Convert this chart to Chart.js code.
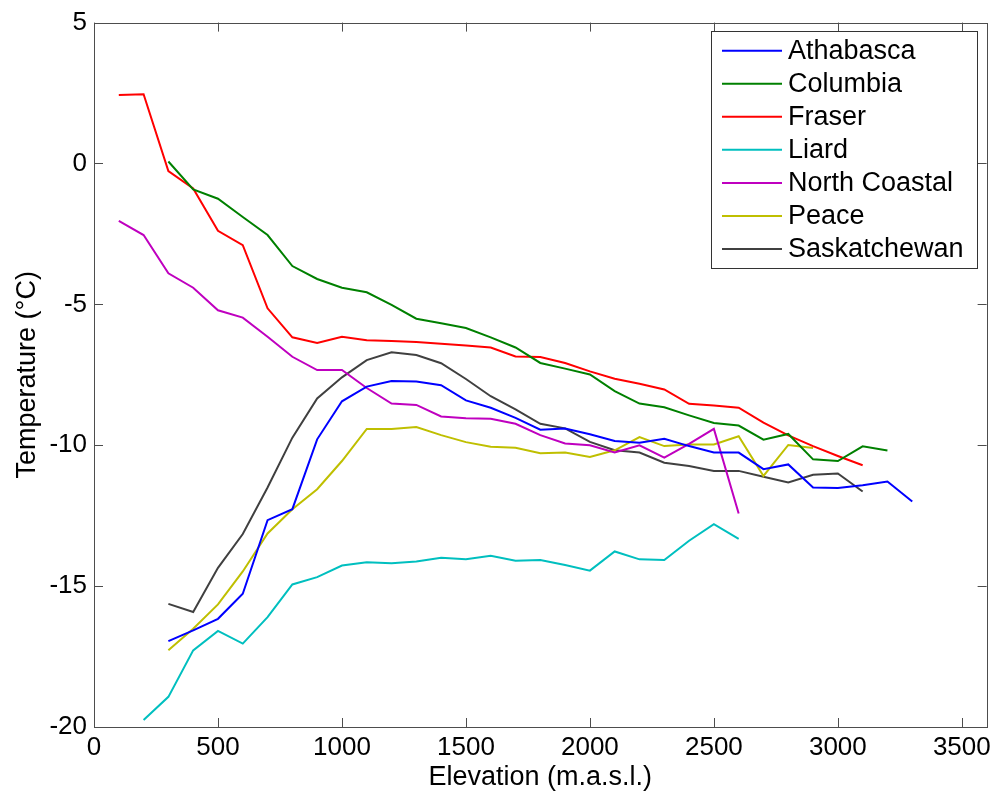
<!DOCTYPE html>
<html>
<head>
<meta charset="utf-8">
<script src="https://cdn.jsdelivr.net/npm/chart.js@4/dist/chart.umd.min.js"></script>
<style>
  html, body { margin: 0; padding: 0; background: #ffffff; }
  #wrap { width: 996px; height: 792px; position: relative; }
</style>
</head>
<body>
<div id="wrap"><canvas id="c" width="996" height="792"></canvas></div>
<script>
// ---- Data (elevation in m.a.s.l., temperature in °C) ----
const elevations = [100,200,300,400,500,600,700,800,900,1000,1100,1200,1300,1400,1500,1600,1700,1800,1900,2000,2100,2200,2300,2400,2500,2600,2700,2800,2900,3000,3100,3200,3300];

const athabasca = [null,null,-16.95,-16.57,-16.16,-15.27,-12.66,-12.27,-9.79,-8.44,-7.92,-7.72,-7.74,-7.87,-8.41,-8.67,-9.03,-9.45,-9.41,-9.61,-9.85,-9.91,-9.77,-10.03,-10.26,-10.26,-10.85,-10.68,-11.50,-11.52,-11.42,-11.29,-12.00];
const columbia = [null,null,0.07,-0.92,-1.25,-1.90,-2.54,-3.64,-4.10,-4.41,-4.57,-5.02,-5.51,-5.67,-5.84,-6.17,-6.53,-7.08,-7.28,-7.49,-8.08,-8.52,-8.65,-8.94,-9.21,-9.30,-9.80,-9.60,-10.50,-10.56,-10.04,-10.19,null];
const fraser = [2.43,2.46,-0.27,-0.89,-2.39,-2.90,-5.14,-6.17,-6.37,-6.15,-6.27,-6.30,-6.34,-6.40,-6.46,-6.53,-6.85,-6.87,-7.08,-7.38,-7.64,-7.82,-8.02,-8.53,-8.59,-8.67,-9.20,-9.65,-10.03,-10.38,-10.71,null,null];
const liard = [null,-19.75,-18.93,-17.28,-16.59,-17.04,-16.10,-14.94,-14.68,-14.27,-14.15,-14.19,-14.13,-13.99,-14.05,-13.92,-14.10,-14.07,-14.25,-14.45,-13.77,-14.05,-14.07,-13.39,-12.80,-13.32,null,null,null,null,null,null,null];
const northCoastal = [-2.04,-2.54,-3.90,-4.41,-5.21,-5.47,-6.15,-6.86,-7.33,-7.33,-7.97,-8.52,-8.57,-8.98,-9.04,-9.06,-9.24,-9.64,-9.94,-10.00,-10.26,-10.00,-10.44,-9.95,-9.42,-12.42,null,null,null,null,null,null,null];
const peace = [null,null,-17.28,-16.51,-15.65,-14.48,-13.13,-12.27,-11.56,-10.56,-9.42,-9.42,-9.35,-9.64,-9.89,-10.05,-10.09,-10.28,-10.26,-10.42,-10.18,-9.71,-10.03,-9.97,-9.97,-9.68,-11.09,-9.99,-10.10,null,null,null,null];
const saskatchewan = [null,null,-15.63,-15.92,-14.35,-13.15,-11.50,-9.73,-8.34,-7.59,-6.98,-6.70,-6.80,-7.09,-7.65,-8.26,-8.73,-9.24,-9.40,-9.88,-10.18,-10.26,-10.62,-10.74,-10.91,-10.91,-11.12,-11.32,-11.05,-11.00,-11.64,null,null];

const seriesNames = ["Athabasca","Columbia","Fraser","Liard","North Coastal","Peace","Saskatchewan"];
const seriesValues = [athabasca, columbia, fraser, liard, northCoastal, peace, saskatchewan];
const seriesColors = ["#0000ff","#008000","#ff0000","#00bfbf","#bf00bf","#bfbf00","#404040"];

const xTicks = [0,500,1000,1500,2000,2500,3000,3500];
const yTicks = [-20,-15,-10,-5,0,5];

// ---- Build datasets ----
const datasets = seriesNames.map((name, i) => ({
  label: name,
  data: elevations.map((e, k) => ({ x: e, y: seriesValues[i][k] })).filter(p => p.y !== null),
  borderColor: seriesColors[i],
  backgroundColor: seriesColors[i],
  borderWidth: 2,
  pointRadius: 0,
  tension: 0,
  fill: false
}));

const FONT = "'Liberation Sans', Arial, Helvetica, sans-serif";
const AXIS_COLOR = "#4d4d4d";

// Box with inward ticks on all four sides (MATLAB style)
const boxPlugin = {
  id: 'boxTicks',
  afterDatasetsDraw(chart) {
    const { ctx, chartArea: a, scales } = chart;
    const tl = 9;
    ctx.save();
    ctx.strokeStyle = AXIS_COLOR;
    ctx.lineWidth = 1;
    ctx.beginPath();
    xTicks.forEach(v => {
      const px = Math.round(scales.x.getPixelForValue(v)) + 0.5;
      ctx.moveTo(px, a.bottom); ctx.lineTo(px, a.bottom - tl);
      ctx.moveTo(px, a.top); ctx.lineTo(px, a.top + tl);
    });
    yTicks.forEach(v => {
      const py = Math.round(scales.y.getPixelForValue(v)) + 0.5;
      ctx.moveTo(a.left, py); ctx.lineTo(a.left + tl, py);
      ctx.moveTo(a.right, py); ctx.lineTo(a.right - tl, py);
    });
    ctx.stroke();
    ctx.strokeRect(Math.round(a.left) + 0.5, Math.round(a.top) + 0.5,
                   Math.round(a.right - a.left), Math.round(a.bottom - a.top));
    ctx.restore();
  }
};

// Legend box in the upper right (MATLAB style)
const legendPlugin = {
  id: 'matlabLegend',
  afterDraw(chart) {
    const { ctx } = chart;
    const bx = 711, by = 31, bw = 266, bh = 237;
    const rowH = 33.05, firstY = 50.7;
    ctx.save();
    ctx.fillStyle = '#ffffff';
    ctx.fillRect(bx, by, bw, bh);
    ctx.strokeStyle = '#333333';
    ctx.lineWidth = 1;
    ctx.strokeRect(bx + 0.5, by + 0.5, bw, bh);
    ctx.font = "27px " + FONT;
    ctx.textBaseline = 'middle';
    ctx.textAlign = 'left';
    chart.data.datasets.forEach((ds, i) => {
      const y = firstY + i * rowH;
      ctx.strokeStyle = ds.borderColor;
      ctx.lineWidth = 2;
      ctx.beginPath();
      ctx.moveTo(722, y); ctx.lineTo(782, y);
      ctx.stroke();
      ctx.fillStyle = '#000000';
      ctx.fillText(ds.label, 788, y + 1);
    });
    ctx.restore();
  }
};

new Chart(document.getElementById('c'), {
  type: 'line',
  data: { datasets },
  plugins: [boxPlugin, legendPlugin],
  options: {
    responsive: false,
    animation: false,
    devicePixelRatio: 1,
    layout: { padding: { left: 0, right: 9, top: 20, bottom: 0 } },
    plugins: { legend: { display: false }, tooltip: { enabled: false } },
    scales: {
      x: {
        type: 'linear',
        min: 0, max: 3600,
        afterBuildTicks: s => { s.ticks = xTicks.map(v => ({ value: v })); },
        afterFit: s => { s.height = 65; },
        grid: { display: false, drawTicks: false },
        border: { display: false },
        ticks: { color: '#000', padding: 5, font: { family: FONT, size: 26 }, maxRotation: 0, autoSkip: false,
                 callback: v => String(v) },
        title: { display: true, text: 'Elevation (m.a.s.l.)', color: '#000', font: { family: FONT, size: 27 }, padding: { top: 0, bottom: -2 } }
      },
      y: {
        type: 'linear',
        min: -20, max: 5,
        afterBuildTicks: s => { s.ticks = yTicks.map(v => ({ value: v })); },
        afterFit: s => { s.width = 94; },
        grid: { display: false, drawTicks: false },
        border: { display: false },
        ticks: { color: '#000', padding: 7, font: { family: FONT, size: 26 }, autoSkip: false,
                 callback: v => String(v) },
        title: { display: true, text: 'Temperature (°C)', color: '#000', font: { family: FONT, size: 27 }, padding: { top: 11, bottom: 0 } }
      }
    }
  }
});
</script>
</body>
</html>
